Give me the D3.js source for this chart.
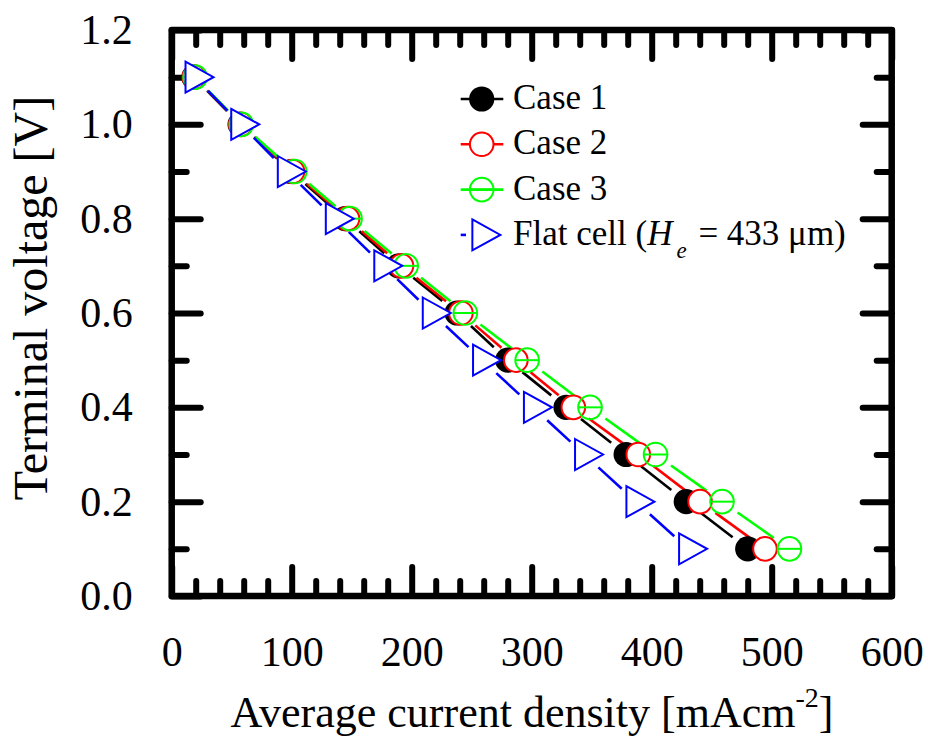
<!DOCTYPE html>
<html>
<head>
<meta charset="utf-8">
<script src="https://cdn.jsdelivr.net/npm/d3@7"></script>
<style>
  html, body { margin: 0; padding: 0; background: #fff; }
  svg text { font-family: "Liberation Serif", "Times New Roman", serif; fill: #000; }
</style>
</head>
<body>
<svg id="chart" width="928" height="740"></svg>
<script>
// Terminal voltage [V] for each operating point
const voltage = [1.1, 1.0, 0.9, 0.8, 0.7, 0.6, 0.5, 0.4, 0.3, 0.2, 0.1];

// Average current density [mA cm^-2] at each voltage
const case1 = [18.5, 57.0, 99.5, 144.5, 189.0, 237.8, 280.0, 328.6, 378.7, 428.8, 480.0];
const case2 = [18.8, 57.5, 100.7, 146.5, 191.5, 241.0, 286.8, 334.7, 388.8, 440.3, 494.4];
const case3 = [19.5, 58.0, 102.5, 148.6, 195.4, 244.7, 296.2, 348.6, 403.2, 458.6, 514.8];
const flatCell = [19.3, 57.4, 96.2, 136.2, 176.6, 217.0, 258.9, 301.3, 343.9, 386.7, 430.6];

const seriesValues = [case1, case2, case3, flatCell];
const seriesLabels = ["Case 1", "Case 2", "Case 3", "Flat cell"];
const seriesColors = ["#000000", "#ff0000", "#00ff00", "#0000ff"];
const seriesSymbols = ["disc", "circle", "circleBar", "triangle"];

// Axis ticks
const xMajorTicks = [0, 100, 200, 300, 400, 500, 600];
const xMinorTicks = [20, 40, 60, 80, 120, 140, 160, 180, 220, 240, 260, 280, 320, 340, 360, 380,
                     420, 440, 460, 480, 520, 540, 560, 580];
const yMajorTicks = [0.0, 0.2, 0.4, 0.6, 0.8, 1.0, 1.2];
const yMinorTicks = [0.1, 0.3, 0.5, 0.7, 0.9, 1.1];

const xTitle = "Average current density [mAcm";
const yTitle = "Terminal voltage [V]";

const svg = d3.select("#chart");
const plotLeft = 171.7, plotRight = 891.7, plotTop = 30, plotBottom = 596;

const x = d3.scaleLinear().domain([0, 600]).range([plotLeft, plotRight]);
const y = d3.scaleLinear().domain([0, 1.2]).range([plotBottom, plotTop]);

const tickW = 6, majorLen = 29, minorLen = 15;

// Inward ticks on all four sides
function drawAxis(gen, transform, values, len, labels) {
  const g = svg.append("g").attr("transform", transform)
    .call(gen.tickValues(values).tickSize(-len).tickPadding(0)
      .tickFormat(labels ? d3.format(labels) : () => ""));
  g.select(".domain").remove();
  g.selectAll(".tick line")
    .attr("stroke", "#000").attr("stroke-width", tickW).attr("stroke-linecap", "round");
  return g;
}

const xb = drawAxis(d3.axisBottom(x), `translate(0,${plotBottom})`, xMajorTicks, majorLen, "d");
drawAxis(d3.axisBottom(x), `translate(0,${plotBottom})`, xMinorTicks, minorLen, null);
drawAxis(d3.axisTop(x), `translate(0,${plotTop})`, xMajorTicks, majorLen, null);
drawAxis(d3.axisTop(x), `translate(0,${plotTop})`, xMinorTicks, minorLen, null);
const yl = drawAxis(d3.axisLeft(y), `translate(${plotLeft},0)`, yMajorTicks, majorLen, ".1f");
drawAxis(d3.axisLeft(y), `translate(${plotLeft},0)`, yMinorTicks, minorLen, null);
drawAxis(d3.axisRight(y), `translate(${plotRight},0)`, yMajorTicks, majorLen, null);
drawAxis(d3.axisRight(y), `translate(${plotRight},0)`, yMinorTicks, minorLen, null);

xb.selectAll(".tick text").attr("font-size", 42).attr("y", 40).attr("dy", "0.71em")
  .style("font-family", '"Liberation Serif", "Times New Roman", serif').attr("fill", "#000");
yl.selectAll(".tick text").attr("font-size", 42).attr("x", -39).attr("dy", "0.32em")
  .style("font-family", '"Liberation Serif", "Times New Roman", serif').attr("fill", "#000");

// Plot frame
svg.append("rect")
  .attr("x", plotLeft).attr("y", plotTop)
  .attr("width", plotRight - plotLeft).attr("height", plotBottom - plotTop)
  .attr("fill", "none").attr("stroke", "#000").attr("stroke-width", 6.5)
  .attr("stroke-linejoin", "round");

// Connecting lines, broken around each symbol
const gap = 19;
const lineLayer = svg.append("g");
seriesValues.forEach((vals, si) => {
  for (let i = 0; i < vals.length - 1; i++) {
    const x0 = x(vals[i]), y0 = y(voltage[i]);
    const x1 = x(vals[i + 1]), y1 = y(voltage[i + 1]);
    const dx = x1 - x0, dy = y1 - y0, d = Math.hypot(dx, dy);
    if (d <= 2 * gap) continue;
    const ux = dx / d, uy = dy / d;
    lineLayer.append("line")
      .attr("x1", x0 + ux * gap).attr("y1", y0 + uy * gap)
      .attr("x2", x1 - ux * gap).attr("y2", y1 - uy * gap)
      .attr("stroke", seriesColors[si]).attr("stroke-width", 2.6);
  }
});

// Symbol drawing
const R = 11.8, triH = 31, triW = 28;
function drawSymbol(g, kind, cx, cy, color) {
  if (kind === "disc") {
    g.append("circle").attr("cx", cx).attr("cy", cy).attr("r", R + 0.8)
      .attr("fill", color).attr("stroke", "none");
  } else if (kind === "circle") {
    g.append("circle").attr("cx", cx).attr("cy", cy).attr("r", R)
      .attr("fill", "#fff").attr("stroke", color).attr("stroke-width", 2);
  } else if (kind === "circleBar") {
    g.append("circle").attr("cx", cx).attr("cy", cy).attr("r", R)
      .attr("fill", "none").attr("stroke", color).attr("stroke-width", 2);
    g.append("line").attr("x1", cx - R).attr("x2", cx + R).attr("y1", cy).attr("y2", cy)
      .attr("stroke", color).attr("stroke-width", 2);
  } else if (kind === "triangle") {
    const bx = cx - triW / 3, tx = cx + triW * 2 / 3;
    g.append("path")
      .attr("d", `M${bx},${cy - triH / 2}L${tx},${cy}L${bx},${cy + triH / 2}Z`)
      .attr("fill", "#fff").attr("stroke", color).attr("stroke-width", 2)
      .attr("stroke-linejoin", "miter");
  }
}

const markLayer = svg.append("g");
seriesValues.forEach((vals, si) => {
  vals.forEach((v, i) => drawSymbol(markLayer, seriesSymbols[si], x(v), y(voltage[i]), seriesColors[si]));
});

// Legend
const legend = svg.append("g");
const legX = 481.7, legY0 = 99, legStep = 45.3;
seriesLabels.forEach((name, si) => {
  const ly = legY0 + si * legStep;
  const x2 = seriesSymbols[si] === "triangle" ? 466 : 503.3;
  legend.append("line").attr("x1", 460.7).attr("x2", x2).attr("y1", ly).attr("y2", ly)
    .attr("stroke", seriesColors[si]).attr("stroke-width", 2.6);
  drawSymbol(legend, seriesSymbols[si], legX, ly, seriesColors[si]);
  const t = legend.append("text").attr("x", 513).attr("y", ly + 10).attr("font-size", 35);
  if (seriesSymbols[si] === "triangle") {
    t.append("tspan").text(name + " (");
    t.append("tspan").attr("font-style", "italic").text("H");
    t.append("tspan").attr("font-style", "italic").attr("font-size", 23).attr("dy", 13).attr("dx", 4).text("e");
    t.append("tspan").attr("dy", -13).attr("dx", 3).text(" = 433 \u03bcm)");
  } else {
    t.text(name);
  }
});

// Axis titles
const xt = svg.append("text").attr("x", 532).attr("y", 727).attr("text-anchor", "middle").attr("font-size", 44);
xt.append("tspan").text(xTitle);
xt.append("tspan").attr("font-size", 28).attr("dy", -20).text("-2");
xt.append("tspan").attr("dy", 20).text("]");

svg.append("text")
  .attr("transform", "translate(47,298) rotate(-90)")
  .attr("text-anchor", "middle").attr("font-size", 48)
  .text(yTitle);
</script>
</body>
</html>
